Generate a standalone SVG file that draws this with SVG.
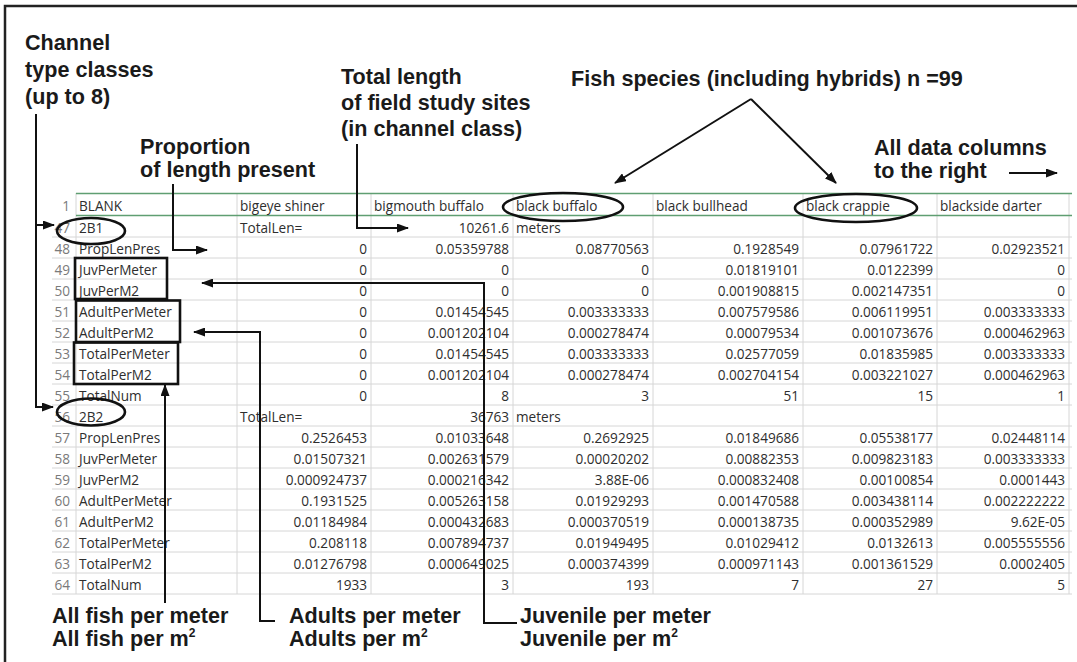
<svg xmlns="http://www.w3.org/2000/svg" width="1077" height="662" viewBox="0 0 1077 662">
<style>
.lbl{font-family:"Liberation Sans",Arial,sans-serif;font-weight:bold;font-size:21.6px;fill:#1a1a1a}
.sup{font-size:12px}
.c{font-family:"Open Sans","Noto Sans",sans-serif;font-size:13.6px;fill:#2e2e2e}
.r{text-anchor:end}
.n{font-family:"Open Sans","Noto Sans",sans-serif;font-size:13.6px;fill:#7a7a7a;text-anchor:end}
.grid{stroke:#d6d6d6;stroke-width:1;fill:none}
.green{stroke:#5f9e72;stroke-width:1.6;fill:none}
.mark{fill:none;stroke:#111;stroke-width:2.6}
.conn{fill:none;stroke:#111;stroke-width:2}
</style>
<defs>
<marker id="ah" markerWidth="12" markerHeight="9" refX="11" refY="4.5" orient="auto" markerUnits="userSpaceOnUse"><path d="M0,0 L12,4.5 L0,9 z" fill="#111"/></marker>
</defs>
<rect x="0" y="0" width="1077" height="662" fill="#ffffff"/>
<rect id="frame" x="5" y="6" width="1090" height="680" fill="none" stroke="#222" stroke-width="2.5"/>

<g id="table">
<g class="grid">
<path d="M52,237 H1072 M52,258 H1072 M52,279 H1072 M52,300 H1072 M52,321 H1072 M52,342 H1072 M52,363 H1072 M52,384 H1072 M52,405 H1072 M52,426 H1072 M52,447 H1072 M52,468 H1072 M52,489 H1072 M52,510 H1072 M52,531 H1072 M52,552 H1072 M52,573 H1072 M52,594 H1072"/>
<path d="M76,193 V594 M237,193 V594 M371,193 V594 M513,193 V594 M653,193 V594 M803,193 V594 M937,193 V594 M1069,193 V594"/>
</g>
<path class="green" d="M76,193.5 H1072 M76,215.5 H1072"/>
<text class="n" x="70" y="211">1</text>
<text class="c" x="79" y="211">BLANK</text>
<text class="c" x="240" y="211">bigeye shiner</text>
<text class="c" x="374" y="211">bigmouth buffalo</text>
<text class="c" x="516" y="211">black buffalo</text>
<text class="c" x="656" y="211">black bullhead</text>
<text class="c" x="806" y="211">black crappie</text>
<text class="c" x="940" y="211">blackside darter</text>

<text class="n" x="70" y="233">47</text><text class="c" x="79" y="233">2B1</text><text class="c" x="240" y="233">TotalLen=</text><text class="c r" x="509" y="233">10261.6</text><text class="c" x="516" y="233">meters</text>

<text class="n" x="70" y="254">48</text><text class="c" x="79" y="254">PropLenPres</text><text class="c r" x="367" y="254">0</text><text class="c r" x="509" y="254">0.05359788</text><text class="c r" x="649" y="254">0.08770563</text><text class="c r" x="799" y="254">0.1928549</text><text class="c r" x="933" y="254">0.07961722</text><text class="c r" x="1065" y="254">0.02923521</text>

<text class="n" x="70" y="275">49</text><text class="c" x="79" y="275">JuvPerMeter</text><text class="c r" x="367" y="275">0</text><text class="c r" x="509" y="275">0</text><text class="c r" x="649" y="275">0</text><text class="c r" x="799" y="275">0.01819101</text><text class="c r" x="933" y="275">0.0122399</text><text class="c r" x="1065" y="275">0</text>

<text class="n" x="70" y="296">50</text><text class="c" x="79" y="296">JuvPerM2</text><text class="c r" x="367" y="296">0</text><text class="c r" x="509" y="296">0</text><text class="c r" x="649" y="296">0</text><text class="c r" x="799" y="296">0.001908815</text><text class="c r" x="933" y="296">0.002147351</text><text class="c r" x="1065" y="296">0</text>

<text class="n" x="70" y="317">51</text><text class="c" x="79" y="317">AdultPerMeter</text><text class="c r" x="367" y="317">0</text><text class="c r" x="509" y="317">0.01454545</text><text class="c r" x="649" y="317">0.003333333</text><text class="c r" x="799" y="317">0.007579586</text><text class="c r" x="933" y="317">0.006119951</text><text class="c r" x="1065" y="317">0.003333333</text>

<text class="n" x="70" y="338">52</text><text class="c" x="79" y="338">AdultPerM2</text><text class="c r" x="367" y="338">0</text><text class="c r" x="509" y="338">0.001202104</text><text class="c r" x="649" y="338">0.000278474</text><text class="c r" x="799" y="338">0.00079534</text><text class="c r" x="933" y="338">0.001073676</text><text class="c r" x="1065" y="338">0.000462963</text>

<text class="n" x="70" y="359">53</text><text class="c" x="79" y="359">TotalPerMeter</text><text class="c r" x="367" y="359">0</text><text class="c r" x="509" y="359">0.01454545</text><text class="c r" x="649" y="359">0.003333333</text><text class="c r" x="799" y="359">0.02577059</text><text class="c r" x="933" y="359">0.01835985</text><text class="c r" x="1065" y="359">0.003333333</text>

<text class="n" x="70" y="380">54</text><text class="c" x="79" y="380">TotalPerM2</text><text class="c r" x="367" y="380">0</text><text class="c r" x="509" y="380">0.001202104</text><text class="c r" x="649" y="380">0.000278474</text><text class="c r" x="799" y="380">0.002704154</text><text class="c r" x="933" y="380">0.003221027</text><text class="c r" x="1065" y="380">0.000462963</text>

<text class="n" x="70" y="401">55</text><text class="c" x="79" y="401">TotalNum</text><text class="c r" x="367" y="401">0</text><text class="c r" x="509" y="401">8</text><text class="c r" x="649" y="401">3</text><text class="c r" x="799" y="401">51</text><text class="c r" x="933" y="401">15</text><text class="c r" x="1065" y="401">1</text>

<text class="n" x="70" y="422">56</text><text class="c" x="79" y="422">2B2</text><text class="c" x="240" y="422">TotalLen=</text><text class="c r" x="509" y="422">36763</text><text class="c" x="516" y="422">meters</text>

<text class="n" x="70" y="443">57</text><text class="c" x="79" y="443">PropLenPres</text><text class="c r" x="367" y="443">0.2526453</text><text class="c r" x="509" y="443">0.01033648</text><text class="c r" x="649" y="443">0.2692925</text><text class="c r" x="799" y="443">0.01849686</text><text class="c r" x="933" y="443">0.05538177</text><text class="c r" x="1065" y="443">0.02448114</text>

<text class="n" x="70" y="464">58</text><text class="c" x="79" y="464">JuvPerMeter</text><text class="c r" x="367" y="464">0.01507321</text><text class="c r" x="509" y="464">0.002631579</text><text class="c r" x="649" y="464">0.00020202</text><text class="c r" x="799" y="464">0.00882353</text><text class="c r" x="933" y="464">0.009823183</text><text class="c r" x="1065" y="464">0.003333333</text>

<text class="n" x="70" y="485">59</text><text class="c" x="79" y="485">JuvPerM2</text><text class="c r" x="367" y="485">0.000924737</text><text class="c r" x="509" y="485">0.000216342</text><text class="c r" x="649" y="485">3.88E-06</text><text class="c r" x="799" y="485">0.000832408</text><text class="c r" x="933" y="485">0.00100854</text><text class="c r" x="1065" y="485">0.0001443</text>

<text class="n" x="70" y="506">60</text><text class="c" x="79" y="506">AdultPerMeter</text><text class="c r" x="367" y="506">0.1931525</text><text class="c r" x="509" y="506">0.005263158</text><text class="c r" x="649" y="506">0.01929293</text><text class="c r" x="799" y="506">0.001470588</text><text class="c r" x="933" y="506">0.003438114</text><text class="c r" x="1065" y="506">0.002222222</text>

<text class="n" x="70" y="527">61</text><text class="c" x="79" y="527">AdultPerM2</text><text class="c r" x="367" y="527">0.01184984</text><text class="c r" x="509" y="527">0.000432683</text><text class="c r" x="649" y="527">0.000370519</text><text class="c r" x="799" y="527">0.000138735</text><text class="c r" x="933" y="527">0.000352989</text><text class="c r" x="1065" y="527">9.62E-05</text>

<text class="n" x="70" y="548">62</text><text class="c" x="79" y="548">TotalPerMeter</text><text class="c r" x="367" y="548">0.208118</text><text class="c r" x="509" y="548">0.007894737</text><text class="c r" x="649" y="548">0.01949495</text><text class="c r" x="799" y="548">0.01029412</text><text class="c r" x="933" y="548">0.0132613</text><text class="c r" x="1065" y="548">0.005555556</text>

<text class="n" x="70" y="569">63</text><text class="c" x="79" y="569">TotalPerM2</text><text class="c r" x="367" y="569">0.01276798</text><text class="c r" x="509" y="569">0.000649025</text><text class="c r" x="649" y="569">0.000374399</text><text class="c r" x="799" y="569">0.000971143</text><text class="c r" x="933" y="569">0.001361529</text><text class="c r" x="1065" y="569">0.0002405</text>

<text class="n" x="70" y="590">64</text><text class="c" x="79" y="590">TotalNum</text><text class="c r" x="367" y="590">1933</text><text class="c r" x="509" y="590">3</text><text class="c r" x="649" y="590">193</text><text class="c r" x="799" y="590">7</text><text class="c r" x="933" y="590">27</text><text class="c r" x="1065" y="590">5</text>
</g>

<g id="marks">
<ellipse id="ring-2B1" class="mark" cx="91" cy="231" rx="34" ry="13"/>
<ellipse id="ring-2B2" class="mark" cx="91" cy="412" rx="34" ry="13.5"/>
<ellipse id="ring-black-buffalo" class="mark" cx="563" cy="207" rx="60" ry="14"/>
<ellipse id="ring-black-crappie" class="mark" cx="856" cy="208" rx="61" ry="14"/>
<rect id="box-juv" class="mark" x="75" y="258" width="92" height="41"/>
<rect id="box-adult" class="mark" x="76" y="300.5" width="104" height="41.5"/>
<rect id="box-total" class="mark" x="74" y="342.5" width="104" height="41.5"/>
</g>

<g id="label-channel"><text class="lbl" x="25" y="50">Channel</text><text class="lbl" x="25" y="77">type classes</text><text class="lbl" x="25" y="104">(up to 8)</text></g>
<g id="label-proportion"><text class="lbl" x="140" y="154">Proportion</text><text class="lbl" x="140" y="177">of length present</text></g>
<g id="label-totallength"><text class="lbl" x="341" y="84">Total length</text><text class="lbl" x="341" y="110">of field study sites</text><text class="lbl" x="341" y="136">(in channel class)</text></g>
<g id="label-species"><text class="lbl" x="571" y="86">Fish species (including hybrids) n =99</text></g>
<g id="label-columns"><text class="lbl" x="874" y="155">All data columns</text><text class="lbl" x="874" y="178">to the right</text></g>
<g id="label-allfish"><text class="lbl" x="52" y="623">All fish per meter</text><text class="lbl" x="52" y="646">All fish per m<tspan class="sup" dy="-9">2</tspan></text></g>
<g id="label-adults"><text class="lbl" x="289" y="623">Adults per meter</text><text class="lbl" x="289" y="646">Adults per m<tspan class="sup" dy="-9">2</tspan></text></g>
<g id="label-juvenile"><text class="lbl" x="520" y="623">Juvenile per meter</text><text class="lbl" x="520" y="646">Juvenile per m<tspan class="sup" dy="-9">2</tspan></text></g>

<g id="connectors" class="conn">
<path d="M36,114 V407 H53" marker-end="url(#ah)"/>
<path d="M36,225 H54" marker-end="url(#ah)"/>
<path d="M173,184 V250 H207" marker-end="url(#ah)"/>
<path d="M357,144 V228 H408" marker-end="url(#ah)"/>
<path d="M751,99 L615,183" marker-end="url(#ah)"/>
<path d="M751,99 L836,183" marker-end="url(#ah)"/>
<path d="M1009,173 H1057" marker-end="url(#ah)"/>
<path d="M165,603 V385" marker-end="url(#ah)"/>
<path d="M275,621 H260 V332 H194" marker-end="url(#ah)"/>
<path d="M517,623 H484 V283 H202" marker-end="url(#ah)"/>
</g>
</svg>
